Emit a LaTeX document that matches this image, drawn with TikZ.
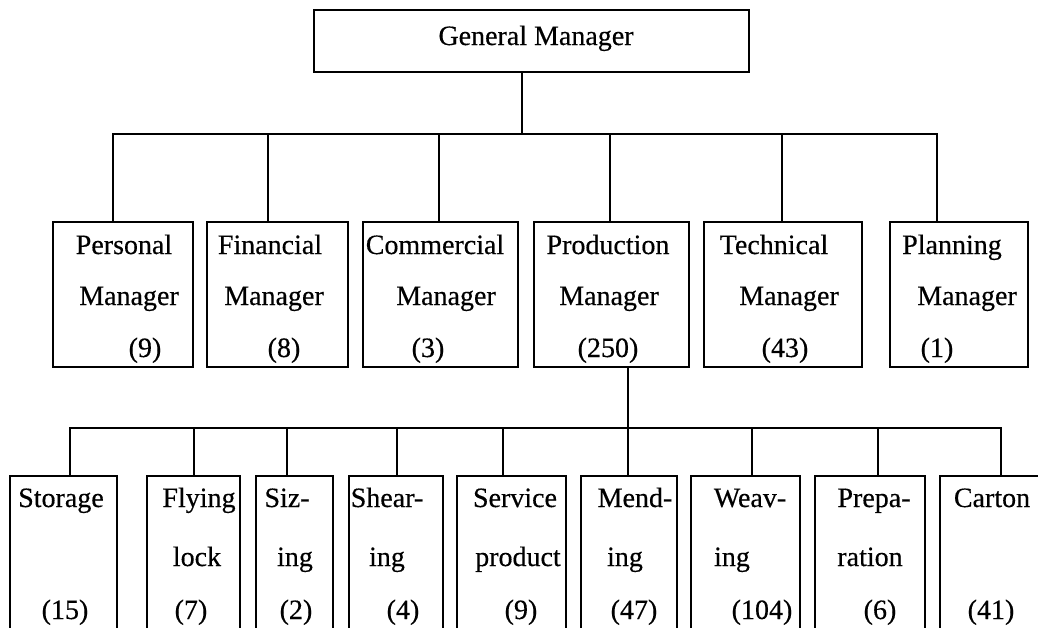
\documentclass[tikz,border=0pt]{standalone}
\usepackage{fontspec}
\setmainfont[FakeBold=0.4]{Liberation Serif}
\begin{document}
\begin{tikzpicture}[x=1pt,y={(0pt,-1pt)},
  box/.style={draw=black,line width=2.3pt,inner sep=0pt,outer sep=0pt},
  lbl/.style={anchor=base,inner sep=0pt,font=\fontsize{28}{34}\selectfont},
  conn/.style={line width=2.8pt,line cap=rect}]
\useasboundingbox (0,0) rectangle (1038,627);
\fill[white] (0,0) rectangle (1038,627);
\clip (0,0) rectangle (1038,627);
% General manager
\node[box,minimum width=435pt,minimum height=62pt] (gm) at (531.5,41) {};
\node[lbl] (gmt) at (536,45) {General Manager};
% Row 1 boxes (top 222, bottom 367)
\node[box,minimum width=140pt,minimum height=145pt] (pm) at (123,294.5) {};
\node[box,minimum width=141pt,minimum height=145pt] (fm) at (277.5,294.5) {};
\node[box,minimum width=155pt,minimum height=145pt] (cm) at (440.5,294.5) {};
\node[box,minimum width=155pt,minimum height=145pt] (prm) at (611.5,294.5) {};
\node[box,minimum width=158pt,minimum height=145pt] (tm) at (783,294.5) {};
\node[box,minimum width=138pt,minimum height=145pt] (plm) at (959,294.5) {};
% Row 1 texts
\node[lbl] (pm1) at (124,254) {Personal};
\node[lbl] (pm2) at (129,305) {Manager};
\node[lbl] (pm3) at (145,357) {(9)};
\node[lbl] (fm1) at (270,254) {Financial};
\node[lbl] (fm2) at (274,305) {Manager};
\node[lbl] (fm3) at (284,357) {(8)};
\node[lbl] (cm1) at (435,254) {Commercial};
\node[lbl] (cm2) at (446,305) {Manager};
\node[lbl] (cm3) at (428,357) {(3)};
\node[lbl] (prm1) at (608,254) {Production};
\node[lbl] (prm2) at (609,305) {Manager};
\node[lbl] (prm3) at (608,357) {(250)};
\node[lbl] (tm1) at (774,254) {Technical};
\node[lbl] (tm2) at (789,305) {Manager};
\node[lbl] (tm3) at (785,357) {(43)};
\node[lbl] (plm1) at (952,254) {Planning};
\node[lbl] (plm2) at (967,305) {Manager};
\node[lbl] (plm3) at (937,357) {(1)};
% Row 2 boxes (top 476, open at bottom)
\node[box,minimum width=107pt,minimum height=180pt] (st) at (63.5,566) {};
\node[box,minimum width=93pt,minimum height=180pt] (fl) at (193.5,566) {};
\node[box,minimum width=77pt,minimum height=180pt] (sz) at (294.5,566) {};
\node[box,minimum width=94pt,minimum height=180pt] (sh) at (396,566) {};
\node[box,minimum width=109pt,minimum height=180pt] (sp) at (511.5,566) {};
\node[box,minimum width=96pt,minimum height=180pt] (me) at (629,566) {};
\node[box,minimum width=109pt,minimum height=180pt] (we) at (745.5,566) {};
\node[box,minimum width=110pt,minimum height=180pt] (pr) at (870,566) {};
\node[box,minimum width=110pt,minimum height=180pt] (ca) at (995,566) {};
% Row 2 texts
\node[lbl] (st1) at (61,507) {Storage};
\node[lbl] (st3) at (65,619) {(15)};
\node[lbl] (fl1) at (199,507) {Flying};
\node[lbl] (fl2) at (197,566) {lock};
\node[lbl] (fl3) at (191,619) {(7)};
\node[lbl] (sz1) at (287,507) {Siz-};
\node[lbl] (sz2) at (295,566) {ing};
\node[lbl] (sz3) at (296,619) {(2)};
\node[lbl] (sh1) at (387,507) {Shear-};
\node[lbl] (sh2) at (387,566) {ing};
\node[lbl] (sh3) at (403,619) {(4)};
\node[lbl] (sp1) at (515,507) {Service};
\node[lbl] (sp2) at (518,566) {product};
\node[lbl] (sp3) at (521,619) {(9)};
\node[lbl] (me1) at (635,507) {Mend-};
\node[lbl] (me2) at (625,566) {ing};
\node[lbl] (me3) at (634,619) {(47)};
\node[lbl] (we1) at (750,507) {Weav-};
\node[lbl] (we2) at (732,566) {ing};
\node[lbl] (we3) at (762,619) {(104)};
\node[lbl] (pr1) at (874,507) {Prepa-};
\node[lbl] (pr2) at (870,566) {ration};
\node[lbl] (pr3) at (880,619) {(6)};
\node[lbl] (ca1) at (992,507) {Carton};
\node[lbl] (ca3) at (991,619) {(41)};
% Level 1 connectors
\coordinate (g1) at (522,134);
\coordinate (jP) at (113,134);
\coordinate (jF) at (268,134);
\coordinate (jC) at (439,134);
\coordinate (jPr) at (610,134);
\coordinate (jT) at (782,134);
\coordinate (jPl) at (937,134);
\draw[conn] (gm.south -| g1) -- (g1);
\draw[conn] (jP) -- (jPl);
\draw[conn] (jP) -- (jP |- pm.north);
\draw[conn] (jF) -- (jF |- fm.north);
\draw[conn] (jC) -- (jC |- cm.north);
\draw[conn] (jPr) -- (jPr |- prm.north);
\draw[conn] (jT) -- (jT |- tm.north);
\draw[conn] (jPl) -- (jPl |- plm.north);
% Level 2 connectors
\coordinate (h1) at (628,428);
\coordinate (kS) at (70,428);
\coordinate (kF) at (194,428);
\coordinate (kZ) at (287,428);
\coordinate (kH) at (397,428);
\coordinate (kV) at (503,428);
\coordinate (kW) at (752,428);
\coordinate (kR) at (878,428);
\coordinate (kC) at (1001,428);
\draw[conn] (prm.south -| h1) -- (h1 |- me.north);
\draw[conn] (kS) -- (kC);
\draw[conn] (kS) -- (kS |- st.north);
\draw[conn] (kF) -- (kF |- fl.north);
\draw[conn] (kZ) -- (kZ |- sz.north);
\draw[conn] (kH) -- (kH |- sh.north);
\draw[conn] (kV) -- (kV |- sp.north);
\draw[conn] (kW) -- (kW |- we.north);
\draw[conn] (kR) -- (kR |- pr.north);
\draw[conn] (kC) -- (kC |- ca.north);
\end{tikzpicture}
\end{document}
